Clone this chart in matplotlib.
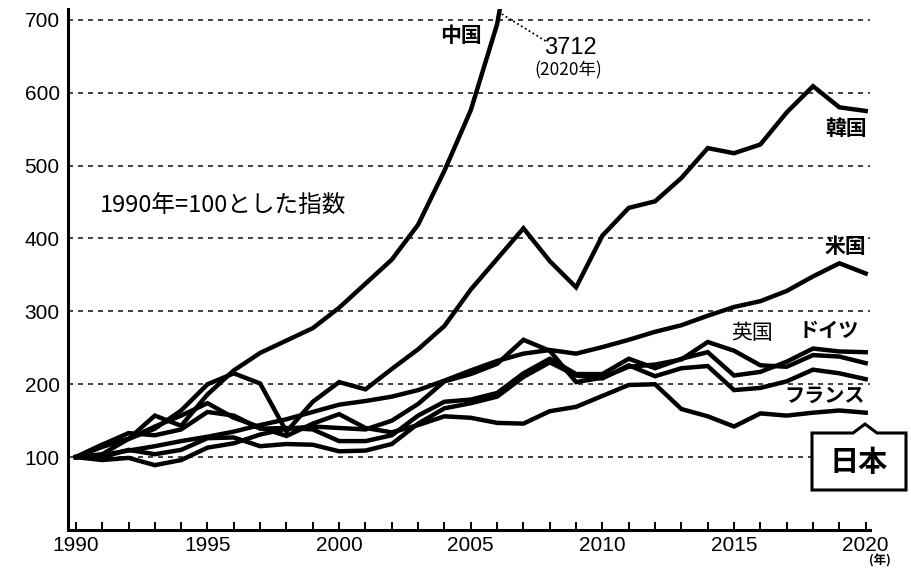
import matplotlib.pyplot as plt
from matplotlib.patches import Polygon

# 名目GDP 1990年=100とした指数
years = list(range(1990, 2021))
china = [100, 104, 125, 157, 143, 186, 219, 243, 260, 277, 305, 338, 371, 419, 493, 576,
         694, 895, 1158, 1286, 1535, 1904, 2151, 2413, 2641, 2789, 2832, 3104, 3503, 3601, 3712]
korea = [100, 117, 125, 139, 164, 200, 215, 201, 135, 176, 203, 193, 221, 248, 280, 330,
         372, 414, 369, 333, 404, 442, 451, 483, 524, 517, 529, 573, 609, 580, 575]
usa = [100, 103, 109, 115, 122, 128, 135, 144, 152, 162, 172, 177, 183, 192, 205, 219,
       232, 242, 247, 242, 251, 261, 272, 281, 294, 306, 314, 328, 348, 366, 352]
germany = [100, 117, 133, 130, 138, 162, 157, 139, 140, 138, 122, 122, 130, 157, 176, 179,
           188, 215, 235, 214, 214, 235, 222, 235, 244, 212, 217, 231, 249, 245, 244]
uk = [100, 96, 99, 89, 96, 113, 119, 131, 139, 142, 140, 138, 150, 173, 204, 214,
      228, 261, 246, 203, 209, 224, 227, 234, 258, 246, 226, 224, 240, 238, 229]
france = [100, 100, 110, 104, 110, 126, 127, 115, 118, 117, 108, 109, 118, 146, 167, 174,
          183, 210, 230, 212, 208, 226, 211, 222, 225, 192, 195, 204, 220, 215, 207]
japan = [100, 114, 125, 142, 157, 174, 154, 141, 129, 146, 159, 140, 134, 144, 156, 154,
         147, 146, 163, 169, 184, 199, 200, 166, 156, 142, 160, 157, 161, 164, 161]

y_ticks = [100, 200, 300, 400, 500, 600, 700]
x_labels = [str(y) if y % 5 == 0 else '' for y in years]

jp = ['Noto Sans CJK JP', 'DejaVu Sans']
num = ['Liberation Sans', 'DejaVu Sans']

fig = plt.figure(figsize=(9.11, 5.72), dpi=100)
ax = fig.add_axes([0.0746, 0.0734, 0.880, 0.911])

for serie in [china, korea, usa, germany, uk, france, japan]:
    ax.plot(years, serie, color='black', linewidth=3.2, solid_joinstyle='miter', zorder=3)

ax.set_xlim(1989.7, 2020.15)
ax.set_ylim(0, 715)

# grade pontilhada
for v in y_ticks:
    ax.axhline(v, color='#222222', linewidth=1.2, linestyle=(0, (3, 3)), zorder=1)

ax.set_xticks(years)
ax.set_xticklabels(x_labels, fontsize=15, family=num)
ax.set_yticks(y_ticks)
ax.set_yticklabels([str(v) for v in y_ticks], fontsize=15, family=num)
ax.tick_params(axis='x', direction='in', length=6, width=1.4, pad=4)
ax.tick_params(axis='y', length=0, pad=6)

for lado in ['top', 'right']:
    ax.spines[lado].set_visible(False)
for lado in ['left', 'bottom']:
    ax.spines[lado].set_linewidth(2.2)

# rótulos das séries
ax.text(2004.62, 679, '中国', fontsize=15, fontweight='bold', family=jp, ha='center', va='center')
ax.plot([2006.18, 2007.93], [708, 669], color='black', linewidth=1.3, linestyle=(0, (1, 1.5)),
        clip_on=False, zorder=3)
ax.text(2008.8, 662, str(china[-1]), fontsize=17, family=num, ha='center', va='center')
ax.text(2008.7, 630, '(2020年)', fontsize=12.5, family=jp, ha='center', va='center')
ax.text(2019.24, 551, '韓国', fontsize=15, fontweight='bold', family=jp, ha='center', va='center')
ax.text(2019.24, 389, '米国', fontsize=15, fontweight='bold', family=jp, ha='center', va='center')
ax.text(2015.67, 271, '英国', fontsize=15, family=jp, ha='center', va='center')
ax.text(2018.6, 274, 'ドイツ', fontsize=14.5, fontweight='bold', family=jp, ha='center', va='center')
ax.text(2018.45, 185, 'フランス', fontsize=14.5, fontweight='bold', family=jp, ha='center', va='center')
ax.text(1990.91, 446, '1990年=100とした指数', fontsize=17, family=jp, ha='left', va='center')

# caixa do Japão
px = [812, 853, 865, 877, 906, 906, 812]
py = [433, 433, 424, 433, 433, 490, 490]
pts = [(x / 911, 1 - y / 572) for x, y in zip(px, py)]
fig.patches.append(Polygon(pts, closed=True, transform=fig.transFigure, facecolor='white',
                           edgecolor='black', linewidth=2.2, zorder=5))
fig.text(859 / 911, 1 - 462 / 572, '日本', fontsize=21, fontweight='bold', family=jp,
         ha='center', va='center', zorder=6)
fig.text(880 / 911, 1 - 561 / 572, '(年)', fontsize=9, fontweight='bold', family=jp,
         ha='center', va='center')

fig.savefig('out.png', dpi=100)
